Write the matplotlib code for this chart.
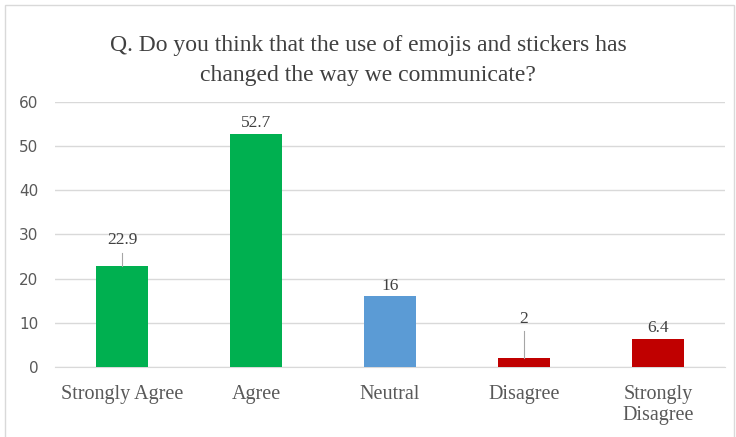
import matplotlib.pyplot as plt
from matplotlib.patches import Rectangle

categories = ["Strongly Agree", "Agree", "Neutral", "Disagree", "Strongly\nDisagree"]
values = [22.9, 52.7, 16, 2, 6.4]
labels = ["22.9", "52.7", "16", "2", "6.4"]
colors = ["#00B050", "#00B050", "#5B9BD5", "#C00000", "#C00000"]

txt = "#595959"
serif = "Liberation Serif"

fig = plt.figure(figsize=(7.36, 4.37), dpi=100)
fig.patches.append(Rectangle((0.007, -0.01), 0.99, 0.998, transform=fig.transFigure,
                             fill=False, edgecolor="#D9D9D9", linewidth=1))
ax = fig.add_axes([0.075, 0.160, 0.910, 0.607])

x = range(len(categories))
ax.bar(x, values, width=0.39, color=colors, zorder=3)

ax.set_ylim(0, 60)
ax.set_xlim(-0.5, len(categories) - 0.5)
ax.set_yticks(range(0, 61, 10))
ax.grid(axis="y", color="#D9D9D9", linewidth=1, zorder=0)
for s in ["top", "right", "left"]:
    ax.spines[s].set_visible(False)
ax.spines["bottom"].set_color("#D9D9D9")
ax.tick_params(length=0)
ax.tick_params(axis="y", labelsize=11, labelcolor=txt, pad=12)
ax.set_xticks(list(x))
ax.set_xticklabels(categories, fontsize=14.5, color=txt, family=serif, linespacing=1.1)
ax.tick_params(axis="x", pad=13)

# data labels (leader lines where the label sits away from the bar)
offsets = [3.5, 0, 0, 6.5, 0]
line_tops = [25.8, None, None, 8.1, None]
for i, (v, lab, off, top) in enumerate(zip(values, labels, offsets, line_tops)):
    ly = v + 0.6 + off
    ax.text(i, ly, lab, ha="center", va="bottom", fontsize=12.5, color="#404040", family=serif)
    if top:
        ax.plot([i, i], [v, top], color="#A6A6A6", linewidth=0.8, zorder=4)

fig.text(0.5, 0.862, "Q. Do you think that the use of emojis and stickers has\nchanged the way we communicate?",
         ha="center", va="center", fontsize=17, color="#404040", family=serif, linespacing=1.6)

fig.savefig("out.png", dpi=100)
